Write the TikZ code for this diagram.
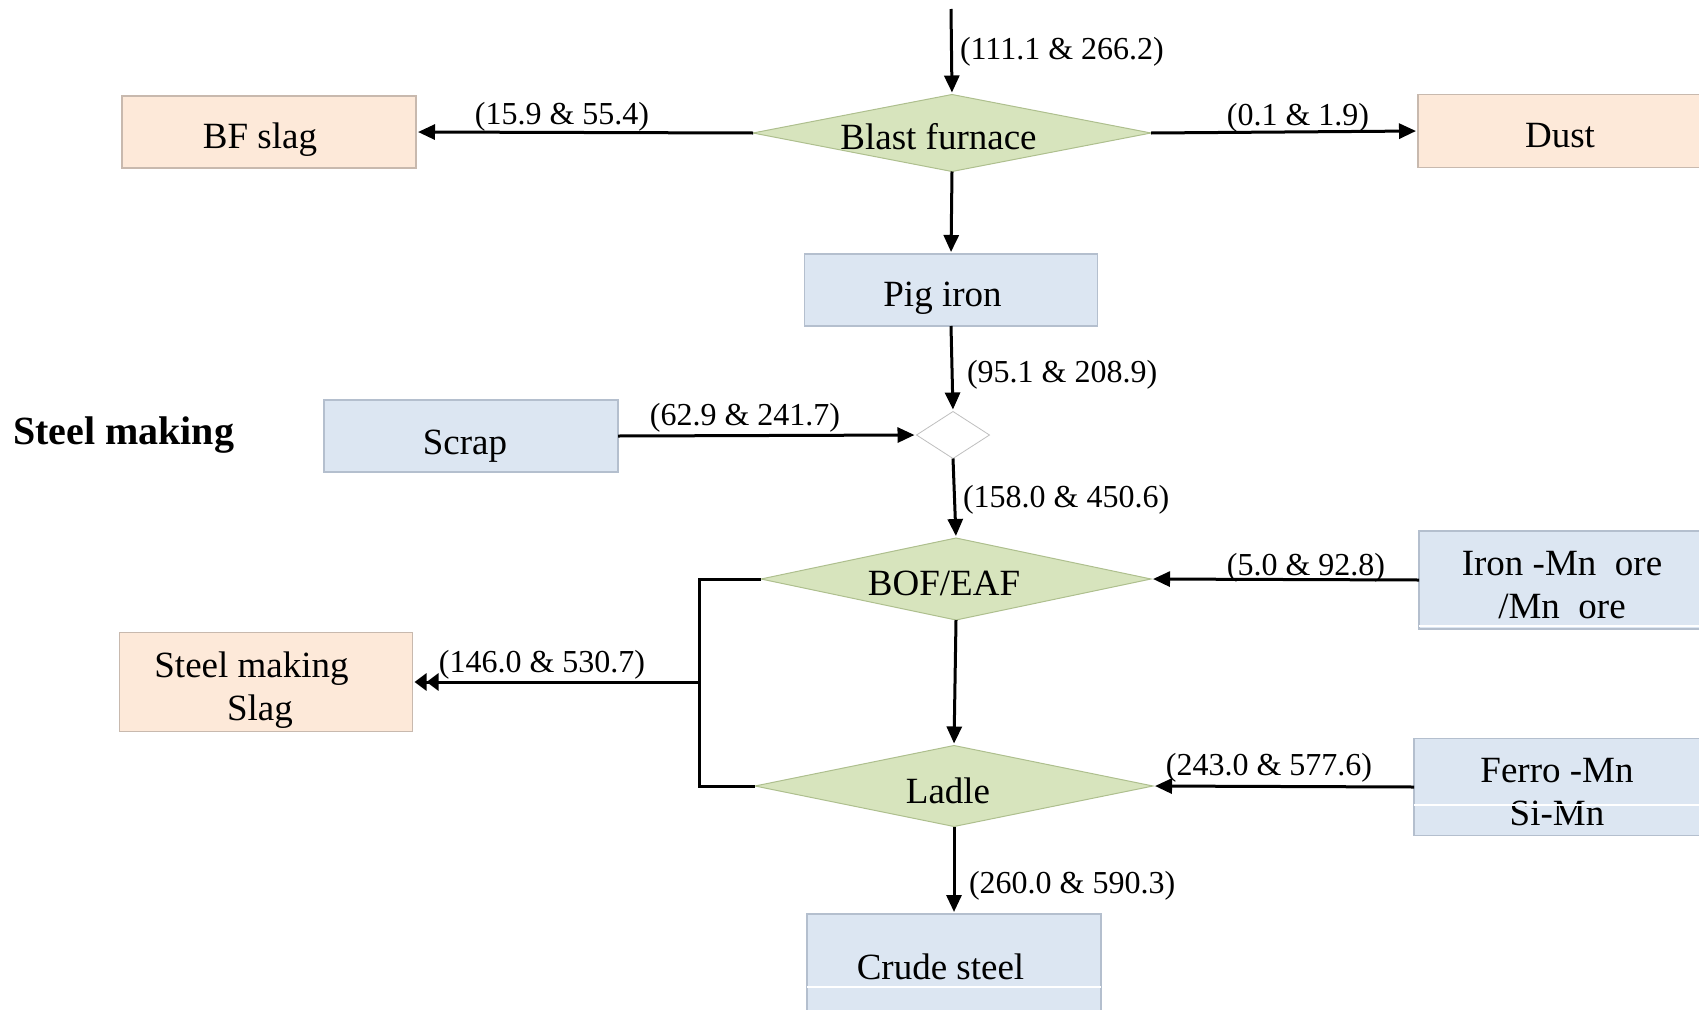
\documentclass[tikz,border=0pt]{standalone}
\usepackage{fontspec}
\setmainfont{Liberation Serif}
\usetikzlibrary{shapes.geometric,arrows.meta}
\definecolor{dgreen}{HTML}{D7E4BD}
\definecolor{dgreenb}{HTML}{AEBF8E}
\definecolor{bblue}{HTML}{DCE6F2}
\definecolor{bblueb}{HTML}{B4BFCE}
\definecolor{pch}{HTML}{FDE9D9}
\definecolor{pchb}{HTML}{C8B9AE}
% #1 = extra space (shifts text left by half), #2 = baseline raise, #3 = text
\newcommand{\tx}[3]{\raisebox{#2}[0pt][0pt]{\makebox[0pt][c]{#3\hspace*{#1}}}}
\tikzset{
  every node/.style={inner sep=0pt, outer sep=0pt},
  txt/.style={font=\fontsize{37pt}{43pt}\selectfont},
  lbl/.style={font=\fontsize{32pt}{37pt}\selectfont},
  dia/.style={diamond, txt, fill=dgreen, draw=dgreenb, line width=1pt},
  bluebox/.style={rectangle, txt, fill=bblue, draw=bblueb, line width=1.2pt},
  peachbox/.style={rectangle, txt, fill=pch, draw=pchb, line width=1.2pt},
  flow/.style={line width=3pt, -{Triangle[length=17pt,width=15pt]}, shorten >=2pt},
  wline/.style={white, line width=1.2pt}
}
\begin{document}
\begin{tikzpicture}[x=1pt,y=-1pt]
\useasboundingbox (0,0) rectangle (1699,1009);

% nodes
\coordinate (top) at (951,9);
\node[dia, minimum width=398pt, minimum height=77pt, aspect=5.17] (bf) at (952,133) {\tx{27pt}{-16.5pt}{Blast furnace}};
\node[peachbox, minimum width=294pt, minimum height=72pt] (bfslag) at (269,132) {\tx{18pt}{-16.5pt}{BF slag}};
\node[peachbox, minimum width=290pt, minimum height=73pt] (dust) at (1563,131) {\tx{6pt}{-16.5pt}{Dust}};
\node[bluebox, minimum width=293pt, minimum height=72pt] (pig) at (951,290) {\tx{17pt}{-16.5pt}{Pig iron}};
\node[diamond, draw=black!25, fill=white, line width=0.8pt, minimum width=73pt, minimum height=47pt, aspect=1.55] (mix) at (953,435) {};
\node[bluebox, minimum width=294pt, minimum height=72pt] (scrap) at (471,436) {\tx{12pt}{-18pt}{Scrap}};
\node[font=\fontsize{40pt}{46pt}\selectfont\bfseries, anchor=west] (sm) at (13,435) {Steel making};
\node[dia, minimum width=390pt, minimum height=82pt, aspect=4.75] (bof) at (956,579) {\tx{24pt}{-16pt}{BOF/EAF}};
\node[bluebox, minimum width=286pt, minimum height=98pt] (ironmn) at (1562,580) {\tx{0pt}{4.6pt}{\begin{tabular}[t]{@{}c@{}}Iron -Mn\ \ ore\\/Mn\ \ ore\end{tabular}}};
\node[dia, minimum width=398pt, minimum height=81pt, aspect=4.9] (ladle) at (954,786) {\tx{12pt}{-17pt}{Ladle}};
\node[bluebox, minimum width=286pt, minimum height=97pt] (ferro) at (1557,787) {\tx{0pt}{4.6pt}{\begin{tabular}[t]{@{}c@{}}Ferro -Mn\\Si-Mn\end{tabular}}};
\node[peachbox, minimum width=293pt, minimum height=99pt] (slag) at (266,682) {\tx{29pt}{5pt}{\begin{tabular}[t]{@{}c@{}}Steel making\\\hspace*{17pt}Slag\end{tabular}}};
\node[bluebox, minimum width=294pt, minimum height=112pt] (crude) at (954,970) {\tx{27pt}{-9.6pt}{Crude steel}};

% white artefact lines inside boxes
\draw[wline] ([yshift=3pt]ironmn.south west) -- ([yshift=3pt]ironmn.south east);
\draw[wline] ([yshift=30.5pt]ferro.south west) -- ([yshift=30.5pt]ferro.south east);
\draw[wline] ([yshift=-17pt]crude.west) -- ([yshift=-17pt]crude.east);

% connectors
\draw[flow] (top) -- (bf.north);
\draw[flow] (bf.west) -- (bfslag.east);
\draw[flow] (bf.east) -- (dust.west);
\draw[flow] (bf.south) -- (pig.north);
\draw[flow] (pig.south) -- (mix.north);
\draw[flow] (scrap.east) -- (mix.west);
\draw[flow] (mix.south) -- (bof.north);
\draw[flow] (ironmn.west) -- (bof.east);
\draw[flow] (bof.south) -- (ladle.north);
\draw[flow] (ferro.west) -- (ladle.east);
\draw[flow] (ladle.south) -- (crude.north);

\coordinate (brk) at (699,682);
\draw[line width=3pt] (bof.west) -- (699,579) -- (699,786) -- (ladle.west);
\draw[line width=3pt, -{Triangle[length=12pt,width=17pt]Triangle[length=12pt,width=17pt]}, shorten >=2pt] (brk) -- (slag.east);

% labels
\node[lbl, anchor=west] (l1) at (960,52) {(111.1 \& 266.2)};
\node[lbl] (l2) at (562,117) {(15.9 \& 55.4)};
\node[lbl] (l3) at (1298,118) {(0.1 \& 1.9)};
\node[lbl, anchor=west] (l4) at (967,375) {(95.1 \& 208.9)};
\node[lbl] (l5) at (745,418) {(62.9 \& 241.7)};
\node[lbl, anchor=west] (l6) at (963,500) {(158.0 \& 450.6)};
\node[lbl] (l7) at (1306,568) {(5.0 \& 92.8)};
\node[lbl] (l8) at (542,665) {(146.0 \& 530.7)};
\node[lbl] (l9) at (1269,768) {(243.0 \& 577.6)};
\node[lbl, anchor=west] (l10) at (969,886) {(260.0 \& 590.3)};
\end{tikzpicture}
\end{document}
